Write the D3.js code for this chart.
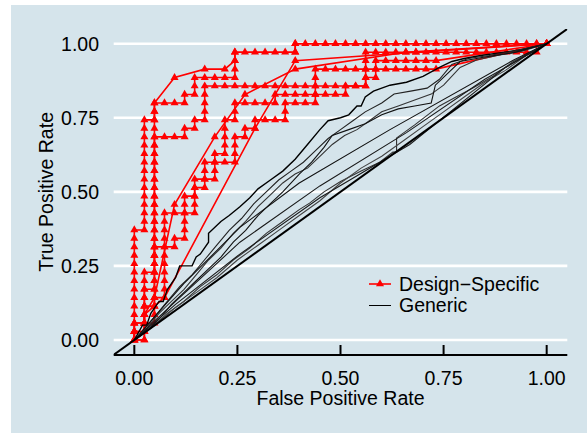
<!DOCTYPE html>
<html>
<head>
<meta charset="utf-8">
<script src="https://cdn.jsdelivr.net/npm/d3@7"></script>
<style>
  body { margin: 0; background: #ffffff; }
  text { font-family: "Liberation Sans", Arial, Helvetica, sans-serif; }
</style>
</head>
<body>
<div id="chart"></div>
<script>
// ---- data ----
const axisTicks = [0, 0.25, 0.5, 0.75, 1];
const tickLabels = ["0.00", "0.25", "0.50", "0.75", "1.00"];
const seriesNames = ["Design\u2212Specific", "Generic"];

// Design-specific ROC curves, as counts of [negatives, positives] passed
const nNeg = 41, nPos = 35;
const red1 = [[0,0],[0,1],[0,2],[0,3],[0,4],[0,5],[0,6],[0,7],[0,8],[0,9],[0,10],[0,11],[0,12],[0,13],
  [1,13],[1,14],[1,15],[1,16],[1,17],[1,18],[1,19],[1,20],[1,21],[1,22],[1,23],[1,24],[1,25],[1,26],
  [2,26],[2,27],[2,28],[4,31],[7,32],[9,32],[10,33],[10,34],[11,34],[12,34],[13,34],[14,34],[15,34],[16,34],[16,35],
  [17,35],[18,35],[19,35],[20,35],[21,35],[22,35],[23,35],[24,35],[25,35],[26,35],[27,35],[28,35],[29,35],
  [30,35],[31,35],[32,35],[33,35],[34,35],[35,35],[36,35],[37,35],[38,35],[39,35],[40,35],[41,35]];
const red2 = [[0,0],[1,0],[1,1],[1,2],[1,3],[1,4],[1,5],[1,6],[1,7],[1,8],[2,8],[2,9],[2,10],[2,11],[2,12],
  [2,13],[2,14],[2,15],[2,16],[2,17],[2,18],[2,19],[2,20],[2,21],[2,22],[2,23],[2,24],[2,25],[2,26],[2,27],[2,28],
  [3,28],[4,28],[5,28],[5,29],[6,29],[6,30],[6,31],[7,31],[8,31],[9,31],[10,31],[10,32],[10,33],[10,34],
  [16,34],[16,35],[41,35]];
const red3 = [[0,0],[0,1],[0,2],[1,2],[2,2],[2,3],[2,4],[2,5],[2,6],[2,7],[2,8],[2,9],[2,10],[2,11],[2,12],
  [2,13],[2,14],[2,15],[2,16],[2,17],[2,18],[2,19],[2,20],[2,21],[2,22],[2,23],[2,24],[3,24],[4,24],[5,24],
  [5,25],[6,25],[6,26],[7,26],[7,27],[7,28],[7,29],[7,30],[8,30],[9,30],[10,30],[11,30],[12,30],[13,30],[14,30],
  [15,30],[16,30],[17,30],[18,30],[19,30],[20,30],[21,30],[22,30],[23,30],[23,31],[23,32],[23,33],[23,34],
  [24,34],[25,34],[26,34],[27,34],[28,34],[29,34],[30,34],[31,34],[32,34],[33,34],[34,34],[35,34],[36,34],
  [37,34],[38,34],[39,34],[40,34],[40,35],[41,35]];
const red4 = [[0,0],[0,1],[1,1],[1,2],[1,3],[1,4],[2,4],[2,5],[3,5],[3,6],[3,7],[3,8],[3,9],[3,10],[3,11],
  [3,12],[3,13],[3,14],[3,15],[4,15],[5,15],[6,15],[6,16],[6,17],[6,18],[7,18],[7,19],[7,20],[7,21],[8,21],
  [9,21],[10,21],[10,22],[10,23],[10,24],[11,24],[11,25],[12,25],[12,26],[13,26],[14,26],[15,26],[15,27],
  [15,28],[16,28],[17,28],[18,28],[18,29],[18,30],[18,31],[18,32],[19,32],[20,32],[21,32],[22,32],[23,32],
  [24,32],[25,32],[26,32],[27,32],[28,32],[29,32],[30,32],[41,35]];
const red5 = [[0,0],[0,1],[0,2],[1,2],[1,3],[1,4],[1,5],[1,6],[2,6],[2,7],[2,8],[2,9],[2,10],[2,11],[3,11],
  [4,11],[4,12],[5,12],[5,13],[5,14],[5,15],[5,16],[5,17],[6,17],[6,18],[6,19],[7,19],[8,19],[8,20],[8,21],
  [8,22],[9,22],[9,23],[9,24],[9,25],[9,26],[10,26],[10,27],[10,28],[11,28],[12,28],[13,28],[14,28],[14,29],
  [15,29],[16,29],[17,29],[18,29],[19,29],[20,29],[21,29],[21,30],[22,30],[23,30],[23,31],[24,31],[24,32],
  [24,33],[25,33],[26,33],[27,33],[28,33],[29,33],[30,33],[41,35]];
const red6 = [[0,0],[1,0],[1,1],[1,2],[1,3],[2,4],[3,5],[12,25],[16,33],[28,34],[41,35]];
const red7 = [[0,0],[0,1],[1,1],[1,2],[1,3],[2,5],[4,16],[8,24],[11,29],[16,32],[27,34],[41,35]];

// Generic ROC curves, [false positive rate, true positive rate]
const gen1 = [[0,0],[0.02,0.05],[0.03,0.05],[0.04,0.09],[0.06,0.13],[0.07,0.13],[0.08,0.17],[0.10,0.21],
  [0.11,0.25],[0.14,0.25],[0.15,0.28],[0.16,0.29],[0.18,0.33],[0.18,0.36],[0.21,0.40],[0.23,0.42],[0.256,0.45],
  [0.28,0.48],[0.30,0.51],[0.33,0.54],[0.36,0.57],[0.39,0.61],[0.42,0.66],[0.45,0.71],[0.47,0.74],[0.50,0.75],
  [0.52,0.76],[0.54,0.79],[0.55,0.79],[0.56,0.82],[0.58,0.84],[0.62,0.86],[0.66,0.87],[0.70,0.89],[0.74,0.92],
  [0.77,0.94],[0.80,0.95],[0.84,0.96],[0.89,0.97],[0.94,0.98],[1,1]];
const gen2 = [[0,0],[0.02,0.03],[0.05,0.08],[0.08,0.13],[0.11,0.18],[0.14,0.22],[0.17,0.27],[0.20,0.32],
  [0.23,0.37],[0.26,0.41],[0.29,0.46],[0.32,0.50],[0.35,0.54],[0.38,0.57],[0.41,0.60],[0.44,0.64],[0.47,0.68],
  [0.50,0.71],[0.53,0.74],[0.56,0.77],[0.60,0.80],[0.63,0.83],[0.67,0.84],[0.71,0.85],[0.74,0.88],[0.77,0.93],
  [0.81,0.95],[0.86,0.96],[0.92,0.975],[1,1]];
const gen3 = [[0,0],[0.03,0.04],[0.06,0.09],[0.09,0.13],[0.12,0.17],[0.15,0.22],[0.18,0.27],[0.21,0.31],
  [0.24,0.36],[0.27,0.40],[0.30,0.45],[0.33,0.49],[0.36,0.53],[0.39,0.56],[0.42,0.58],[0.45,0.62],[0.48,0.66],
  [0.51,0.69],[0.54,0.71],[0.57,0.74],[0.60,0.77],[0.64,0.79],[0.68,0.81],[0.72,0.83],[0.75,0.86],[0.79,0.92],
  [0.83,0.945],[0.88,0.96],[0.94,0.975],[1,1]];
const gen4 = [[0,0],[0.03,0.03],[0.06,0.07],[0.09,0.12],[0.12,0.16],[0.15,0.20],[0.18,0.24],[0.21,0.28],
  [0.24,0.33],[0.27,0.37],[0.30,0.42],[0.33,0.46],[0.36,0.50],[0.40,0.56],[0.43,0.60],[0.46,0.65],[0.48,0.69],
  [0.52,0.71],[0.56,0.73],[0.60,0.76],[0.64,0.78],[0.68,0.79],[0.72,0.80],[0.73,0.86],[0.76,0.90],[0.79,0.94],
  [0.85,0.955],[0.92,0.97],[1,1]];
const gen5 = [[0,0],[0.04,0.04],[0.08,0.09],[0.12,0.13],[0.16,0.18],[0.20,0.22],[0.24,0.27],[0.28,0.31],
  [0.32,0.36],[0.36,0.40],[0.40,0.44],[0.425,0.462],[0.46,0.50],[0.50,0.535],[0.55,0.57],[0.595,0.60],
  [0.627,0.634],[0.636,0.634],[0.636,0.682],[0.68,0.726],[0.74,0.79],[0.78,0.82],[0.82,0.85],[0.87,0.89],
  [0.917,0.938],[0.96,0.97],[1,1]];
const gen6 = [[0,0],[0.05,0.05],[0.10,0.11],[0.15,0.16],[0.20,0.21],[0.25,0.27],[0.30,0.32],[0.35,0.37],
  [0.40,0.42],[0.45,0.47],[0.50,0.53],[0.55,0.58],[0.60,0.62],[0.65,0.67],[0.70,0.72],[0.75,0.77],[0.80,0.82],
  [0.85,0.87],[0.90,0.91],[0.95,0.96],[1,1]];
const gen7 = [[0,0],[0.05,0.08],[0.12,0.19],[0.256,0.38],[0.40,0.53],[0.62,0.71],[0.92,0.945],[1,1]];
const gen8 = [[0,0],[0.10,0.13],[0.256,0.33],[0.45,0.52],[0.66,0.70],[0.85,0.88],[1,1]];
const gen9 = [[0,0],[0.10,0.12],[0.256,0.29],[0.45,0.48],[0.668,0.66],[0.90,0.92],[1,1]];

const redCurves = [red1, red2, red3, red4, red5, red6, red7];
const genCurves = [gen1, gen2, gen3, gen4, gen5, gen6, gen7, gen8, gen9];

// ---- layout ----
const width = 587, height = 433;
const panel = {left: 113.7, right: 567.3, top: 28.9, bottom: 354.8};
const bg = "#d5e4eb";

const svg = d3.select("#chart").append("svg")
  .attr("width", width)
  .attr("height", height);

svg.append("rect")
  .attr("x", 11).attr("y", 5)
  .attr("width", width - 11).attr("height", height - 5)
  .attr("fill", bg);

const x = d3.scaleLinear().domain([-0.05, 1.05]).range([panel.left, panel.right]);
const y = d3.scaleLinear().domain([-0.05, 1.05]).range([panel.bottom, panel.top]);

svg.append("defs").append("clipPath").attr("id", "clip")
  .append("rect")
  .attr("x", panel.left).attr("y", panel.top)
  .attr("width", panel.right - panel.left).attr("height", panel.bottom - panel.top);

// gridlines
svg.append("g").selectAll("line")
  .data(axisTicks)
  .join("line")
  .attr("x1", panel.left).attr("x2", panel.right)
  .attr("y1", d => y(d)).attr("y2", d => y(d))
  .attr("stroke", "#ffffff")
  .attr("stroke-width", 2.6);

const plot = svg.append("g").attr("clip-path", "url(#clip)");

// design-specific curves
const redLine = d3.line()
  .x(d => x(d[0] / nNeg))
  .y(d => y(d[1] / nPos));
const tri = d3.symbol().type(d3.symbolTriangle).size(28);

redCurves.forEach(c => {
  plot.append("path")
    .attr("d", redLine(c))
    .attr("fill", "none")
    .attr("stroke", "#ff0000")
    .attr("stroke-width", 1.6);
  plot.append("g").selectAll("path")
    .data(c)
    .join("path")
    .attr("d", tri)
    .attr("transform", d => "translate(" + x(d[0] / nNeg) + "," + y(d[1] / nPos) + ")")
    .attr("fill", "#ff0000");
});

// generic curves
const genLine = d3.line().x(d => x(d[0])).y(d => y(d[1]));
const greys = ["#000000", "#222222", "#333333", "#111111", "#333333", "#444444", "#111111", "#1a1a1a", "#1a1a1a"];

genCurves.forEach((c, i) => {
  plot.append("path")
    .attr("d", genLine(c))
    .attr("fill", "none")
    .attr("stroke", greys[i])
    .attr("stroke-width", i === 0 ? 1.4 : 1.1);
});

// chance diagonal
plot.append("line")
  .attr("x1", x(-0.05)).attr("y1", y(-0.05))
  .attr("x2", x(1.05)).attr("y2", y(1.05))
  .attr("stroke", "#000000")
  .attr("stroke-width", 2);

// x axis
svg.append("line")
  .attr("x1", panel.left).attr("x2", panel.right)
  .attr("y1", 355).attr("y2", 355)
  .attr("stroke", "#000000").attr("stroke-width", 2);

svg.append("g").selectAll("line")
  .data(axisTicks)
  .join("line")
  .attr("x1", d => x(d)).attr("x2", d => x(d))
  .attr("y1", 345).attr("y2", 355)
  .attr("stroke", "#000000").attr("stroke-width", 2);

svg.append("g").selectAll("text")
  .data(axisTicks)
  .join("text")
  .attr("x", d => x(d))
  .attr("y", 385)
  .attr("text-anchor", "middle")
  .attr("font-size", "19.5px")
  .attr("fill", "#000000")
  .text((d, i) => tickLabels[i]);

// y axis labels
svg.append("g").selectAll("text")
  .data(axisTicks)
  .join("text")
  .attr("x", 99)
  .attr("y", d => y(d))
  .attr("dy", "0.35em")
  .attr("text-anchor", "end")
  .attr("font-size", "19.5px")
  .attr("fill", "#000000")
  .text((d, i) => tickLabels[i]);

// axis titles
svg.append("text")
  .attr("x", (panel.left + panel.right) / 2)
  .attr("y", 405)
  .attr("text-anchor", "middle")
  .attr("font-size", "19.5px")
  .text("False Positive Rate");

svg.append("text")
  .attr("transform", "translate(53," + ((panel.top + panel.bottom) / 2) + ") rotate(-90)")
  .attr("text-anchor", "middle")
  .attr("font-size", "19.5px")
  .text("True Positive Rate");

// legend
const legend = svg.append("g").attr("transform", "translate(369,284)");
legend.append("line")
  .attr("x1", 0).attr("x2", 22).attr("y1", 0).attr("y2", 0)
  .attr("stroke", "#ff0000").attr("stroke-width", 1.6);
legend.append("path")
  .attr("d", tri)
  .attr("transform", "translate(11,0)")
  .attr("fill", "#ff0000");
legend.append("line")
  .attr("x1", 0).attr("x2", 22).attr("y1", 21.5).attr("y2", 21.5)
  .attr("stroke", "#000000").attr("stroke-width", 1);
legend.selectAll("text")
  .data(seriesNames)
  .join("text")
  .attr("x", 30)
  .attr("y", (d, i) => i * 21)
  .attr("dy", "0.35em")
  .attr("font-size", "19.5px")
  .text(d => d);
</script>
</body>
</html>
